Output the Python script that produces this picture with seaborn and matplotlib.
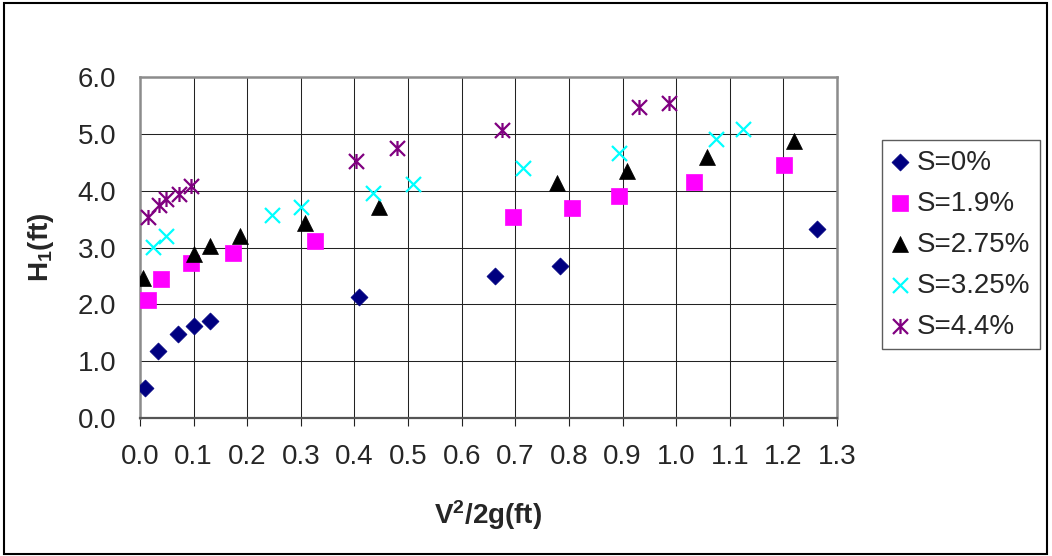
import numpy as np
import pandas as pd
import matplotlib
matplotlib.use("Agg")
import matplotlib.pyplot as plt
from matplotlib.path import Path
from matplotlib.patches import Rectangle
import seaborn as sns

# Measured velocity head V^2/2g (ft) and upstream depth H1 (ft) for each slope
series_names = ["S=0%", "S=1.9%", "S=2.75%", "S=3.25%", "S=4.4%"]

x_s0 = [0.01, 0.033, 0.070, 0.100, 0.131, 0.409, 0.662, 0.784, 1.262]
y_s0 = [0.53, 1.18, 1.48, 1.62, 1.70, 2.13, 2.50, 2.67, 3.33]

x_s19 = [0.014, 0.039, 0.095, 0.173, 0.327, 0.695, 0.805, 0.893, 1.033, 1.201]
y_s19 = [2.08, 2.44, 2.73, 2.90, 3.12, 3.54, 3.69, 3.91, 4.16, 4.46]

x_s275 = [0.005, 0.100, 0.131, 0.187, 0.308, 0.445, 0.777, 0.908, 1.058, 1.219]
y_s275 = [2.47, 2.88, 3.02, 3.21, 3.43, 3.71, 4.13, 4.35, 4.59, 4.87]

x_s325 = [0.024, 0.049, 0.246, 0.300, 0.434, 0.510, 0.715, 0.893, 1.075, 1.124]
y_s325 = [3.01, 3.21, 3.57, 3.71, 3.96, 4.12, 4.40, 4.66, 4.91, 5.09]

x_s44 = [0.014, 0.035, 0.049, 0.072, 0.096, 0.402, 0.480, 0.676, 0.931, 0.986]
y_s44 = [3.54, 3.74, 3.85, 3.94, 4.08, 4.53, 4.75, 5.07, 5.48, 5.55]

x_ticks = [round(0.1 * i, 1) for i in range(14)]
y_ticks = [float(i) for i in range(7)]

# Asterisk marker: vertical stroke plus a diagonal cross
star_path = Path(
    [(0, -1), (0, 1), (-1, -1), (1, 1), (-1, 1), (1, -1)],
    [Path.MOVETO, Path.LINETO, Path.MOVETO, Path.LINETO, Path.MOVETO, Path.LINETO],
)

styles = {
    "S=0%": dict(marker="D", color="#000080", s=75, lw=0.5),
    "S=1.9%": dict(marker="s", color="#FF00FF", s=125, lw=0.5),
    "S=2.75%": dict(marker="^", color="#000000", s=132, lw=0.5),
    "S=3.25%": dict(marker="x", color="#00FFFF", s=117, lw=1.6),
    "S=4.4%": dict(marker=star_path, color="#800080", s=117, lw=1.6),
}

frames = []
for name, xs, ys in zip(series_names,
                        [x_s0, x_s19, x_s275, x_s325, x_s44],
                        [y_s0, y_s19, y_s275, y_s325, y_s44]):
    frames.append(pd.DataFrame({"v2g": xs, "h1": ys, "slope": name}))
df = pd.concat(frames, ignore_index=True)

sns.set_style("white")
plt.rcParams["font.family"] = ["Liberation Sans", "DejaVu Sans"]
plt.rcParams["mathtext.fontset"] = "custom"
plt.rcParams["mathtext.rm"] = "Liberation Sans"
plt.rcParams["mathtext.bf"] = "Liberation Sans:bold"

fig = plt.figure(figsize=(10.52, 5.56), dpi=100)
ax = fig.add_axes([140 / 1052, 1 - 418 / 556, 697 / 1052, 341 / 556])

for name in series_names:
    st = styles[name]
    sub = df[df["slope"] == name]
    sns.scatterplot(data=sub, x="v2g", y="h1", ax=ax, marker=st["marker"],
                    color=st["color"], s=st["s"], edgecolor=st["color"],
                    linewidth=st["lw"], label=name, zorder=3)

ax.set_xlim(0, 1.3)
ax.set_ylim(0, 6)
ax.set_xticks(x_ticks)
ax.set_xticklabels([f"{v:.1f}" for v in x_ticks])
ax.set_yticks(y_ticks)
ax.set_yticklabels([f"{v:.1f}" for v in y_ticks])
ax.tick_params(axis="x", direction="out", length=6, width=0.8, color="#222222",
               labelsize=20, pad=13, bottom=True)
ax.tick_params(axis="y", length=0, labelsize=20, pad=17, left=True)

ax.grid(True, color="#222222", linewidth=0.75, zorder=0)
ax.set_axisbelow(True)
for side in ["left", "top", "right"]:
    ax.spines[side].set_color("#8c8c8c")
    ax.spines[side].set_linewidth(1.8)
ax.spines["bottom"].set_color("#555555")
ax.spines["bottom"].set_linewidth(1.6)

ax.set_xlabel(r"$\mathbf{V^2/2g(ft)}$", fontsize=20, labelpad=20)
ax.set_ylabel(r"$\mathbf{H_1(ft)}$", fontsize=20, labelpad=16)

leg = ax.legend(loc="upper left", bbox_to_anchor=(882 / 1052, 1 - 140 / 556),
                bbox_transform=fig.transFigure, fontsize=20, frameon=True,
                fancybox=False, edgecolor="#333333", borderpad=0.35,
                handlelength=0.6, handletextpad=0.3, labelspacing=0.54,
                borderaxespad=0)
leg.get_frame().set_linewidth(1.0)

# Outer chart border
fig.patches.append(Rectangle((4 / 1052, 2 / 556), 1043 / 1052, 551 / 556,
                             transform=fig.transFigure, fill=False,
                             edgecolor="black", linewidth=1.5))

fig.savefig("out.png", dpi=100)
